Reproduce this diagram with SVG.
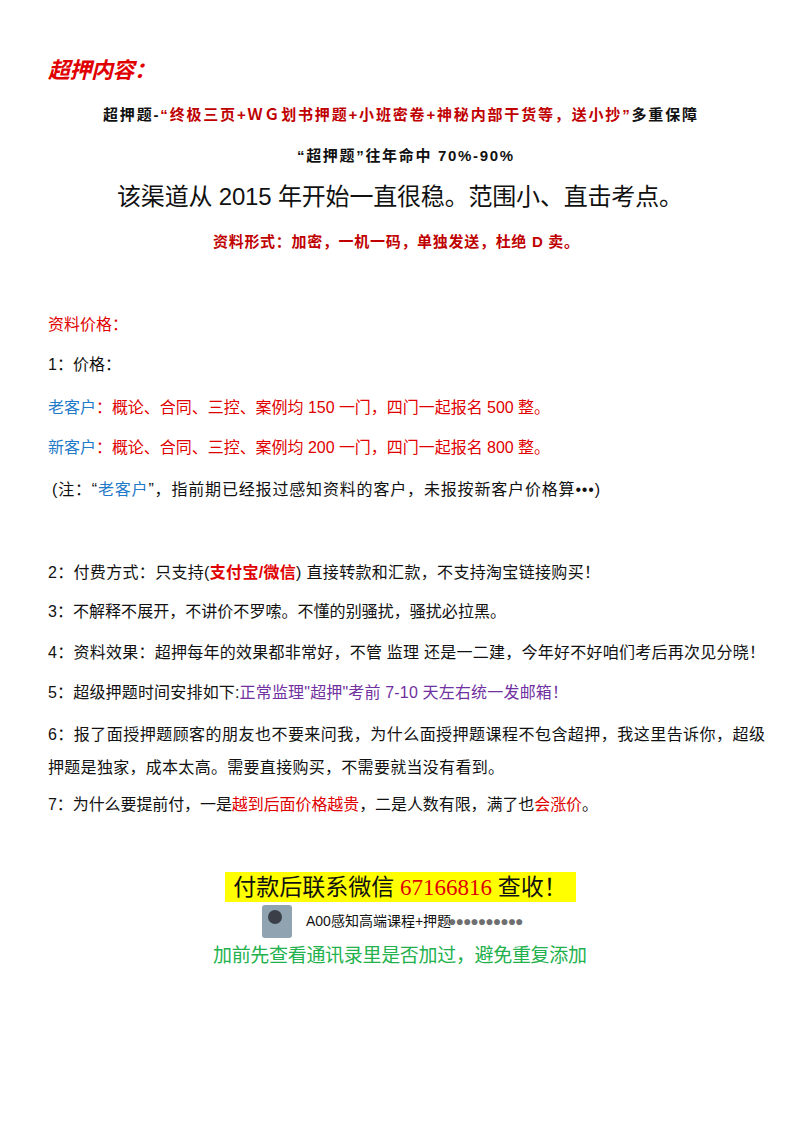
<svg xmlns="http://www.w3.org/2000/svg" width="800" height="1132" viewBox="0 0 800 1132">
<style>
text{font-family:"Liberation Sans","Noto Sans CJK SC",sans-serif;fill:#111}
.b{font-size:16px}
.h{font-size:15px;font-weight:bold}
.r{fill:#e00000}
.dr{fill:#c00000}
.bl{fill:#1f7ac8}
.pu{fill:#7030a0}
.s{font-family:"Liberation Serif","Noto Sans CJK SC",serif}
</style>
<rect width="800" height="1132" fill="#fff"/>
<text x="48" y="78" font-size="22" font-weight="bold" font-style="italic" class="r" textLength="108">超押内容：</text>
<text x="103" y="120" class="h" textLength="594">超押题-<tspan class="dr">“终极三页+ＷＧ划书押题+小班密卷+神秘内部干货等，送小抄”</tspan>多重保障</text>
<text x="297" y="161" class="h" textLength="216">“超押题”往年命中 70%-90%</text>
<text x="117" y="205" font-size="24" textLength="566">该渠道从 2015 年开始一直很稳。范围小、直击考点。</text>
<text x="213" y="247" class="h dr" textLength="366">资料形式：加密，一机一码，单独发送，杜绝 D 卖。</text>
<text x="48" y="330" class="b r">资料价格：</text>
<text x="48" y="370" class="b">1：价格：</text>
<text x="48" y="413" class="b" textLength="502"><tspan class="bl">老客户</tspan><tspan class="r">：概论、合同、三控、案例均 150 一门，四门一起报名 500 整。</tspan></text>
<text x="48" y="453" class="b" textLength="502"><tspan class="bl">新客户</tspan><tspan class="r">：概论、合同、三控、案例均 200 一门，四门一起报名 800 整。</tspan></text>
<text x="52" y="495" class="b" textLength="548">(注：“<tspan class="bl">老客户</tspan>”，指前期已经报过感知资料的客户，未报按新客户价格算•••)</text>
<text x="48" y="578" class="b" textLength="552">2：付费方式：只支持(<tspan class="r" font-weight="bold">支付宝/微信</tspan>) 直接转款和汇款，不支持淘宝链接购买！</text>
<text x="48" y="617" class="b" textLength="458">3：不解释不展开，不讲价不罗嗦。不懂的别骚扰，骚扰必拉黑。</text>
<text x="48" y="658" class="b" textLength="717">4：资料效果：超押每年的效果都非常好，不管  监理  还是一二建，今年好不好咱们考后再次见分晓！</text>
<text x="48" y="698" class="b" textLength="520">5：超级押题时间安排如下:<tspan class="pu">正常监理"超押"考前 7-10 天左右统一发邮箱！</tspan></text>
<text x="48" y="740" class="b" textLength="717">6：报了面授押题顾客的朋友也不要来问我，为什么面授押题课程不包含超押，我这里告诉你，超级</text>
<text x="48" y="773" class="b" textLength="456">押题是独家，成本太高。需要直接购买，不需要就当没有看到。</text>
<text x="48" y="810" class="b" textLength="550">7：为什么要提前付，一是<tspan class="r">越到后面价格越贵</tspan>，二是人数有限，满了也<tspan class="r">会涨价</tspan>。</text>
<g id="contact">
<rect x="225" y="872" width="351" height="30" fill="#ffff00"/>
<text x="400" y="895" font-size="23" text-anchor="middle" class="s">付款后联系微信 <tspan fill="#e00000">67166816</tspan> 查收！</text>
<rect x="262" y="905" width="30" height="33" rx="3" fill="#8fa3b0"/>
<rect x="268" y="910" width="14" height="14" rx="7" fill="#3a3f48"/>
<text x="306" y="926" font-size="14" fill="#555">A00感知高端课程+押题</text>
<text x="448" y="926" font-size="14" fill="#999" opacity="0.6" letter-spacing="-1">●●●●●●●●●●</text>
<text x="213" y="962" font-size="19" class="s" style="fill:#22b14c" textLength="374">加前先查看通讯录里是否加过，避免重复添加</text>
</g>
</svg>
